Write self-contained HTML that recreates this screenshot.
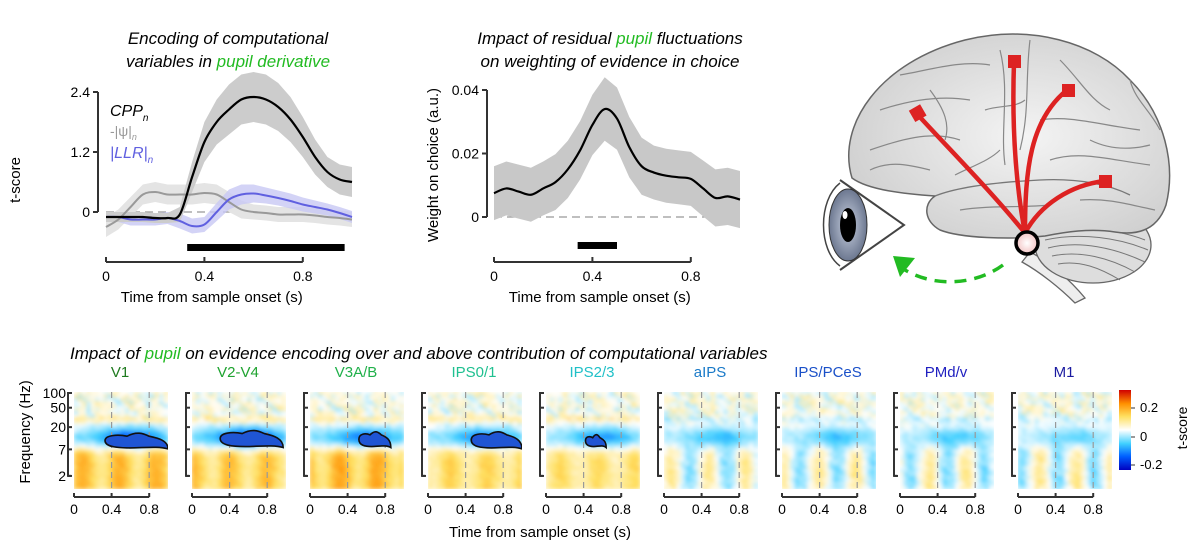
<!DOCTYPE html>
<html><head><meta charset="utf-8">
<style>
html,body{margin:0;padding:0;background:#fff;}
svg{display:block;font-family:"Liberation Sans",Arial,sans-serif;}
</style></head>
<body>
<svg id="fig" width="1200" height="552" viewBox="0 0 1200 552" xmlns="http://www.w3.org/2000/svg">
<defs>
  <filter id="blur" x="-5%" y="-5%" width="110%" height="110%"><feGaussianBlur stdDeviation="2"/></filter>
  <radialGradient id="brainGrad" cx="0.55" cy="0.5" r="0.6"><stop offset="0" stop-color="#f4f4f4"/><stop offset="1" stop-color="#cfcfcf"/></radialGradient>
  <radialGradient id="irisGrad" cx="0.5" cy="0.5" r="0.6"><stop offset="0" stop-color="#c8d0e0"/><stop offset="1" stop-color="#5a6680"/></radialGradient>
  <radialGradient id="nucGrad" cx="0.5" cy="0.5" r="0.6"><stop offset="0" stop-color="#fff"/><stop offset="1" stop-color="#f0b8b8"/></radialGradient>
  <linearGradient id="cbar" x1="0" y1="1" x2="0" y2="0">
    <stop offset="0" stop-color="#0000c0"/><stop offset="0.17" stop-color="#0060ff"/><stop offset="0.33" stop-color="#40d0ff"/><stop offset="0.5" stop-color="#ffffff"/><stop offset="0.67" stop-color="#ffe060"/><stop offset="0.83" stop-color="#ff9000"/><stop offset="1" stop-color="#d00000"/>
  </linearGradient>
</defs>

<text x="228" y="44" text-anchor="middle" font-size="17" font-style="italic">Encoding of computational</text>
<text x="228" y="67" text-anchor="middle" font-size="17" font-style="italic">variables in <tspan fill="#22bb22">pupil derivative</tspan></text>
<text x="610" y="44" text-anchor="middle" font-size="17" font-style="italic">Impact of residual <tspan fill="#22bb22">pupil</tspan> fluctuations</text>
<text x="610" y="67" text-anchor="middle" font-size="17" font-style="italic">on weighting of evidence in choice</text>
<text x="70" y="359" font-size="17" font-style="italic">Impact of <tspan fill="#22bb22">pupil</tspan> on evidence encoding over and above contribution of computational variables</text>

<g id="chart1"></g>
<g id="chart2"></g>
<g id="brain"></g>
<g id="heat"></g>
</svg>

<script>
// ---------- Chart 1 data ----------
const times = [0,.05,.1,.15,.2,.25,.3,.35,.4,.45,.5,.55,.6,.65,.7,.75,.8,.85,.9,.95,1];
const cppMean = [-0.1,-0.1,-0.1,-0.1,-0.12,-0.12,-0.05,0.7,1.4,1.8,2.05,2.25,2.3,2.25,2.1,1.85,1.5,1.1,0.8,0.65,0.6];
const cppSem  = [0.1,0.1,0.1,0.1,0.1,0.1,0.15,0.3,0.4,0.45,0.5,0.5,0.5,0.5,0.48,0.45,0.4,0.35,0.3,0.3,0.3];
const psiMean = [-0.3,-0.15,0.1,0.35,0.4,0.35,0.35,0.35,0.38,0.35,0.2,0.05,0,-0.02,-0.05,-0.05,-0.05,-0.07,-0.1,-0.12,-0.15];
const psiSem  = [0.2,0.2,0.2,0.2,0.2,0.2,0.2,0.2,0.2,0.2,0.2,0.18,0.15,0.15,0.15,0.15,0.15,0.15,0.15,0.15,0.15];
const llrMean = [-0.1,-0.1,-0.15,-0.15,-0.15,-0.12,-0.18,-0.28,-0.25,0.0,0.25,0.35,0.37,0.33,0.28,0.22,0.15,0.1,0.05,-0.02,-0.1];
const llrSem  = [0.1,0.1,0.12,0.12,0.12,0.12,0.15,0.15,0.15,0.18,0.2,0.2,0.18,0.16,0.15,0.15,0.14,0.13,0.12,0.12,0.12];
const sig1 = [0.33,0.97];
const yTicks1 = [0,1.2,2.4];
const xTicks = [0,0.4,0.8];
// ---------- Chart 2 data ----------
const wMean = [.0075,.009,.008,.007,.009,.011,.015,.021,.029,.034,.031,.022,.016,.014,.013,.0125,.012,.009,.006,.0065,.0055];
const wSem  = [.0085,.0085,.0085,.0085,.0085,.0088,.009,.0092,.0095,.01,.0098,.0095,.009,.0085,.0085,.0085,.0085,.0088,.009,.009,.009];
const sig2 = [0.34,0.5];
const yTicks2 = [0,0.02,0.04];
// ---------- Heatmap data ----------
const regions = ["V1","V2-V4","V3A/B","IPS0/1","IPS2/3","aIPS","IPS/PCeS","PMd/v","M1"];
const regionColors = ["#1e7a1e","#1fa330","#20b04a","#1fc090","#20c0c8","#1a7ac8","#1a50c8","#2020c0","#1a1aa0"];
const alphaStrength = [1.3,1.5,1.15,1.05,0.95,0.75,0.7,0.65,0.55];
const lowStrength   = [1.15,1.05,1.25,0.85,0.75,0.15,0.1,0.1,0.15];
const clusterStart = [0.33,0.3,0.52,0.46,0.42,null,null,null,null];
const clusterEnd   = [1.0,0.97,0.86,1.0,0.64,null,null,null,null];
const clusterTopHz = [15,17,16,16,14,null,null,null,null];
const clusterBotHz = [7.5,8,8,7.5,8,null,null,null,null];
const freqTicks = [100,50,20,7,2];
const texA = "39174628507139462850173956284017395648201739654820173946582031794658206481739205";
const texB = "72051836491627380459183726450918273645019283746501928374650192837465019273846";

const NS="http://www.w3.org/2000/svg";
function mk(tag, attrs, parent){const e=document.createElementNS(NS,tag);for(const k in attrs)e.setAttribute(k,attrs[k]);if(parent)parent.appendChild(e);return e;}
function txt(parent,x,y,s,size,anchor,extra){const t=mk('text',Object.assign({x:x,y:y,'font-size':size,'text-anchor':anchor||'middle'},extra||{}),parent);t.textContent=s;return t;}

function lineChart(g, cfg){
  const X=t=>cfg.x0+t*cfg.xs, Y=v=>cfg.y0-v*cfg.ys;
  const z=mk('line',{x1:X(0),x2:X(1),y1:Y(0),y2:Y(0),stroke:'#999','stroke-dasharray':'8,5','stroke-width':1.3},g);
  
  
  cfg.series.forEach(s=>{
    let up='',lo='';
    times.forEach((t,i)=>{up+=(i?'L':'M')+X(t)+','+Y(s.m[i]+s.e[i]);});
    for(let i=times.length-1;i>=0;i--) lo+='L'+X(times[i])+','+Y(s.m[i]-s.e[i]);
    const b=mk('path',{d:up+lo+'Z',fill:s.band,'fill-opacity':s.op||1},g);
    
    
  });
  cfg.series.forEach(s=>{
    const pts=times.map((t,i)=>[X(t),Y(s.m[i])]);
    let d='M'+pts[0];
    for(let i=0;i<pts.length-1;i++){const p0=pts[Math.max(0,i-1)],p1=pts[i],p2=pts[i+1],p3=pts[Math.min(pts.length-1,i+2)];
      d+='C'+(p1[0]+(p2[0]-p0[0])/6)+','+(p1[1]+(p2[1]-p0[1])/6)+' '+(p2[0]-(p3[0]-p1[0])/6)+','+(p2[1]-(p3[1]-p1[1])/6)+' '+p2;}
    const l=mk('path',{d:d,fill:'none',stroke:s.col,'stroke-width':s.w||2},g);
    
    
  });
  const sb=mk('rect',{x:X(cfg.sig[0]),y:cfg.sigY,width:X(cfg.sig[1])-X(cfg.sig[0]),height:7,fill:'#000'},g);
  
  
  const ya=mk('line',{x1:cfg.ax,x2:cfg.ax,y1:Y(cfg.yt[cfg.yt.length-1]),y2:Y(cfg.yt[0]),stroke:'#333','stroke-width':2},g);
  
  
  cfg.yt.forEach(v=>{mk('line',{x1:cfg.ax-5,x2:cfg.ax,y1:Y(v),y2:Y(v),stroke:'#333','stroke-width':2},g);
    const t=txt(g,cfg.ax-8,Y(v)+5,cfg.fmt(v),14,'end');
    
    });
  const xa=mk('line',{x1:X(0),x2:X(0.8),y1:262,y2:262,stroke:'#333','stroke-width':2},g);
  
  
  xTicks.forEach(v=>{mk('line',{x1:X(v),x2:X(v),y1:262,y2:257,stroke:'#333','stroke-width':2},g);
    const t=txt(g,X(v),281,String(v),14);
    
    });
  const xt=txt(g,X(0.43),302,'Time from sample onset (s)',15);
  
  
  const yt=txt(g,0,0,cfg.ylab,15,'middle',{transform:'translate('+cfg.ylx+','+cfg.yly+') rotate(-90)'});
  
  
}

const g1=document.getElementById('chart1');
lineChart(g1,{x0:106,xs:246,y0:212,ys:50,ax:98,yt:yTicks1,fmt:v=>v===0?'0':v.toFixed(1),sig:sig1,sigY:244,
  ylab:'t-score',ylx:20,yly:180,
  series:[{name:'psi',m:psiMean,e:psiSem,band:'#e4e4e4',col:'#999999'},
          {name:'llr',m:llrMean,e:llrSem,band:'#c8c8f4',op:0.8,col:'#6060e0'},
          {name:'cpp',m:cppMean,e:cppSem,band:'#cccccc',col:'#000',w:2.2}]});
let lg=txt(g1,110,116,'',16,'start',{'font-style':'italic'});lg.innerHTML='CPP<tspan font-size="10" dy="5">n</tspan>';


lg=txt(g1,110,136,'',14,'start',{fill:'#999'});lg.innerHTML='-|ψ|<tspan font-size="9" dy="4" font-style="italic">n</tspan>';


lg=txt(g1,110,158,'',16,'start',{fill:'#6060e0','font-style':'italic'});lg.innerHTML='|LLR|<tspan font-size="10" dy="5">n</tspan>';



const g2=document.getElementById('chart2');
lineChart(g2,{x0:494,xs:246,y0:217,ys:3175,ax:487,yt:yTicks2,fmt:v=>v===0?'0':v.toFixed(2),sig:sig2,sigY:242,
  ylab:'Weight on choice (a.u.)',ylx:438,yly:165,
  series:[{name:'weight',m:wMean,e:wSem,band:'#c8c8c8',col:'#000',w:2.2}]});

// ---------- Heatmaps ----------
function cmap(v){
  const stops=[[-0.3,[0,0,192]],[-0.2,[0,96,255]],[-0.1,[64,208,255]],[0,[255,255,255]],[0.1,[255,224,96]],[0.2,[255,144,0]],[0.3,[208,0,0]]];
  v=Math.max(-0.3,Math.min(0.3,v));
  for(let i=0;i<stops.length-1;i++){if(v<=stops[i+1][0]){const f=(v-stops[i][0])/(stops[i+1][0]-stops[i][0]);
    const c=stops[i][1].map((a,k)=>Math.round(a+(stops[i+1][1][k]-a)*f));return 'rgb('+c+')';}}
  return 'rgb(208,0,0)';
}
const hg=document.getElementById('heat');
const HT=392,HB=489,HX=94,cols=22,rows=30;
const fy=f=>393+(Math.log(100)-Math.log(f))*21.2;
const yf=y=>100*Math.exp(-(y-393)/21.2);
regions.forEach((r,p)=>{
  const x0=74+118*p;
  const pg=mk('g',{},hg);
  
  
  const tt=txt(pg,x0+46,377,r,15,'middle',{fill:regionColors[p]});
  
  
  const clipId='c'+p;
  const cp=mk('clipPath',{id:clipId},pg);mk('rect',{x:x0,y:HT,width:HX,height:HB-HT},cp);
  const cg=mk('g',{'clip-path':'url(#'+clipId+')'},pg);
  const ig=mk('g',{filter:'url(#blur)'},cg);
  const cw=HX/cols, rh=(HB-HT)/rows;
  for(let i=0;i<rows;i++)for(let j=0;j<cols;j++){
    const a=(+texA[(i*13+j*7+p*31)%texA.length]-4.5)/4.5;
    const b=(+texB[(i*5+j*11+p*17)%texB.length]-4.5)/4.5;
    const tx=0.6*a+0.4*b;
    const f=yf(HT+(i+0.5)*rh), lf=Math.log(f), tt2=(j+0.5)/cols;
    const hiW=1/(1+Math.exp(-(lf-Math.log(26))*8));
    const loW=1/(1+Math.exp((lf-Math.log(7))*8));
    const g=Math.exp(-((tt2-0.6)**2)/0.1);
    let v=hiW*(0.08*tx+0.01);
    v+=0.06*Math.exp(-((lf-Math.log(28))**2)/0.02)*(p>=5?-0.5:1);
    v+=-(0.05+0.11*g)*alphaStrength[p]*Math.exp(-((lf-Math.log(12))**2)/0.22)+0.025*tx*(1-hiW)*(1-loW);
    const stripe=Math.sin(tt2*16+p*1.3)*0.5+0.5;
    if(lowStrength[p]>0.5) v+=loW*((0.06+0.08*stripe)*lowStrength[p]+0.025*tx);
    else v+=loW*((stripe-0.5)*0.14+0.04*tx);
    const c=mk('rect',{x:x0+j*cw-0.5,y:HT+i*rh-0.5,width:cw+1,height:rh+1,fill:cmap(v)},ig);
    
    
  }
  [0.4,0.8].forEach(t=>{mk('line',{x1:x0+t*HX,x2:x0+t*HX,y1:HT,y2:HB,stroke:'#999','stroke-dasharray':'6,4','stroke-width':1.2},cg);});
  if(clusterStart[p]!==null){
    const a=x0+clusterStart[p]*HX,b=x0+clusterEnd[p]*HX,w=b-a;
    const yt=fy(clusterTopHz[p]),yb=fy(clusterBotHz[p]),ym=(yt+yb)/2;
    const d='M'+a+','+ym+' C'+a+','+(yt+2)+' '+(a+w*0.2)+','+(yt+1)+' '+(a+w*0.35)+','+(yt+3)+
      ' C'+(a+w*0.5)+','+(yt-2)+' '+(a+w*0.6)+','+yt+' '+(a+w*0.7)+','+(yt+3)+
      ' C'+(a+w*0.85)+','+(yt+5)+' '+b+','+(ym)+' '+b+','+(yb+1)+
      ' C'+(a+w*0.85)+','+(yb-2)+' '+(a+w*0.6)+','+(yb)+' '+(a+w*0.4)+','+(yb)+
      ' C'+(a+w*0.2)+','+yb+' '+a+','+(yb-1)+' '+a+','+ym+'Z';
    const cl=mk('path',{d:d,fill:'#1f55d4',stroke:'#111','stroke-width':1.6},cg);
    
    
  }
  const yb=mk('path',{d:'M'+(x0-3)+','+fy(100)+' h-3 V'+fy(2)+' h3',fill:'none',stroke:'#333','stroke-width':2},pg);
  
  
  freqTicks.forEach(f=>{mk('line',{x1:x0-6,x2:x0-2,y1:fy(f),y2:fy(f),stroke:'#333','stroke-width':2},pg);
    if(p===0){const t=txt(pg,x0-8,fy(f)+5,String(f),14,'end');
      
      }});
  const xa=mk('line',{x1:x0,x2:x0+0.8*HX,y1:497,y2:497,stroke:'#333','stroke-width':2},pg);
  
  
  xTicks.forEach(v=>{mk('line',{x1:x0+v*HX,x2:x0+v*HX,y1:497,y2:493,stroke:'#333','stroke-width':2},pg);
    const t=txt(pg,x0+v*HX,514,String(v),14);
    
    });
});
let t=txt(hg,0,0,'Frequency (Hz)',15,'middle',{transform:'translate(30,432) rotate(-90)'});


t=txt(hg,540,537,'Time from sample onset (s)',15);


const cb=mk('rect',{x:1119,y:390,width:12,height:80,fill:'url(#cbar)'},hg);


[['0.2',412],['0',441],['-0.2',469]].forEach(a=>{mk('line',{x1:1131,x2:1135,y1:a[1]-4,y2:a[1]-4,stroke:'#333'},hg);
  const l=txt(hg,1140,a[1],a[0],13,'start');
  
  });
t=txt(hg,0,0,'t-score',14,'middle',{transform:'translate(1187,428) rotate(-90)'});



// ---------- Brain ----------
const bg=document.getElementById('brain');
bg.innerHTML=`
<path d="M1030,252 C1050,262 1070,280 1085,298 L1075,303 C1060,288 1040,272 1022,262 Z" fill="#eee" stroke="#666" stroke-width="1.3"/>
<ellipse cx="1093" cy="245" rx="58" ry="38" fill="#ddd" stroke="#666" stroke-width="1.3"/>
<g stroke="#777" stroke-width="1" fill="none">
<path d="M1045,232 C1080,225 1120,230 1145,240"/><path d="M1045,240 C1080,232 1120,238 1148,250"/><path d="M1048,248 C1080,240 1115,248 1145,262"/><path d="M1052,256 C1080,250 1110,258 1135,272"/><path d="M1058,264 C1080,260 1100,268 1120,280"/><path d="M1040,224 C1080,215 1120,220 1140,228"/></g>
<path d="M852,178 C836,125 880,62 965,40 C1030,24 1095,42 1130,80 C1165,115 1176,165 1166,205 C1158,228 1140,236 1115,232 C1090,228 1065,232 1045,236 C1010,240 960,238 940,230 C925,222 922,205 935,196 C905,194 868,190 852,178 Z" fill="url(#brainGrad)" stroke="#666" stroke-width="1.5"/>
<path d="M935,196 C960,186 1000,182 1040,180 C1080,178 1110,185 1130,195" fill="none" stroke="#777" stroke-width="1.3"/>
<g stroke="#888" stroke-width="1.2" fill="none">
<path d="M1030,40 C1025,80 1030,110 1020,150"/><path d="M1000,50 C1010,90 1000,130 1005,165"/><path d="M870,150 C900,140 930,130 960,140"/><path d="M880,110 C910,100 940,95 970,100"/><path d="M900,75 C930,70 960,60 990,65"/><path d="M1060,60 C1080,80 1090,100 1110,110"/><path d="M1040,120 C1070,115 1100,125 1140,130"/><path d="M1050,160 C1080,150 1110,160 1150,165"/><path d="M960,210 C990,205 1020,208 1050,205"/><path d="M1080,200 C1110,198 1130,205 1155,210"/><path d="M955,175 C975,165 990,160 1000,150"/><path d="M1130,80 C1135,100 1150,110 1160,130"/><path d="M870,170 C890,160 910,165 930,170"/><path d="M930,90 C945,110 950,125 945,140"/><path d="M1090,140 C1110,150 1130,150 1150,145"/><path d="M985,110 C1000,105 1015,108 1025,100"/></g>
<g stroke="#dd2222" stroke-width="4.5" fill="none" stroke-linecap="round">
<path d="M1025,233 C990,190 950,150 918,115"/><path d="M1025,233 C1015,180 1012,120 1014,62"/><path d="M1025,233 C1025,170 1030,120 1067,90"/><path d="M1025,233 C1040,205 1070,185 1105,181"/></g>
<g fill="#dd2222"><rect x="911" y="107" width="13" height="13" transform="rotate(-30 917 113)"/><rect x="1008" y="55" width="13" height="13"/><rect x="1062" y="84" width="13" height="13"/><rect x="1099" y="175" width="13" height="13"/></g>
<circle cx="1027" cy="243" r="11" fill="url(#nucGrad)" stroke="#000" stroke-width="3.5"/>
<path d="M840,180 L904,225 L840,270" fill="none" stroke="#444" stroke-width="2"/>
<path d="M840,183 C818,200 818,250 840,266" fill="none" stroke="#444" stroke-width="1.5"/>
<ellipse cx="848" cy="225" rx="19" ry="36" fill="url(#irisGrad)" stroke="#333" stroke-width="1"/>
<ellipse cx="848" cy="225" rx="8" ry="17" fill="#000"/>
<ellipse cx="845" cy="215" rx="2.5" ry="4" fill="#fff"/>
<path d="M1003,265 C980,282 940,290 905,270" fill="none" stroke="#22bb22" stroke-width="3.5" stroke-dasharray="12,8"/>
<path d="M893,256 L915,258 L900,277 Z" fill="#22bb22"/>`;
</script>
</body></html>
